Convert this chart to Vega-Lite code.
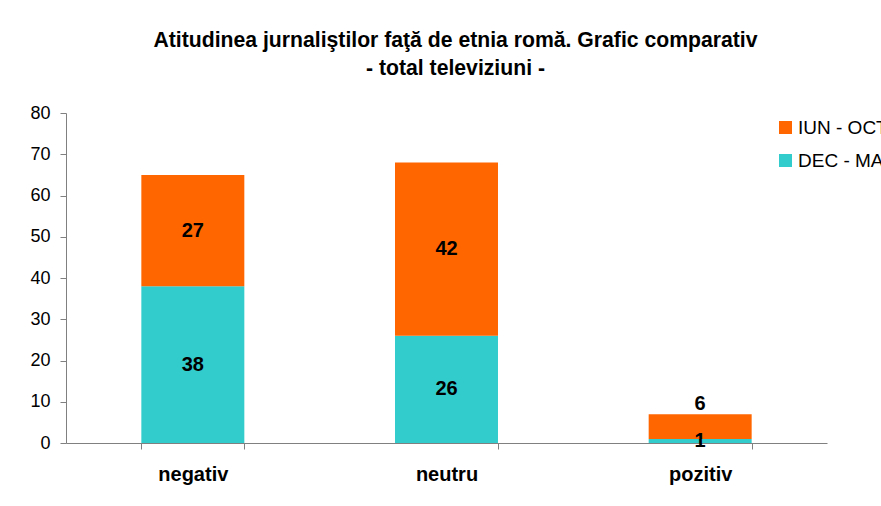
{
  "$schema": "https://vega.github.io/schema/vega-lite/v6.json",
  "autosize": {"type": "none"},
  "width": 761,
  "height": 330,
  "padding": {"left": 66, "top": 113, "right": 54, "bottom": 63},
  "background": "white",
  "config": {
    "font": "Liberation Sans",
    "view": {"stroke": null}
  },
  "title": {
    "text": ["Atitudinea jurnaliştilor faţă de etnia romă. Grafic comparativ", "- total televiziuni -"],
    "font": "Liberation Sans",
    "fontSize": 21.2,
    "fontWeight": "bold",
    "color": "#000000",
    "anchor": "middle",
    "dx": 9,
    "offset": 25,
    "lineHeight": 28
  },
  "data": {
    "values": [
      {"categorie": "negativ", "perioada": "DEC - MAR", "valoare": 38},
      {"categorie": "negativ", "perioada": "IUN - OCT", "valoare": 27},
      {"categorie": "neutru", "perioada": "DEC - MAR", "valoare": 26},
      {"categorie": "neutru", "perioada": "IUN - OCT", "valoare": 42},
      {"categorie": "pozitiv", "perioada": "DEC - MAR", "valoare": 1},
      {"categorie": "pozitiv", "perioada": "IUN - OCT", "valoare": 6}
    ]
  },
  "transform": [
    {"stack": "valoare", "groupby": ["categorie"], "sort": [{"field": "perioada", "order": "ascending"}], "as": ["v0", "v1"]},
    {"calculate": "(datum.v0 + datum.v1) / 2", "as": "vmid"}
  ],
  "encoding": {
    "x": {
      "field": "categorie",
      "type": "nominal",
      "sort": ["negativ", "neutru", "pozitiv"],
      "scale": {"paddingInner": 0.594, "paddingOuter": 0.297},
      "axis": {
        "title": null,
        "labelAngle": 0,
        "labelFont": "Liberation Sans",
        "labelFontSize": 20,
        "labelFontWeight": "bold",
        "labelColor": "#000000",
        "labelPadding": 15,
        "tickBand": "extent",
        "tickSize": 6,
        "domainColor": "#808080",
        "tickColor": "#808080"
      }
    }
  },
  "layer": [
    {
      "mark": {"type": "bar"},
      "encoding": {
        "y": {
          "field": "v0",
          "type": "quantitative",
          "scale": {"domain": [0, 80], "nice": false},
          "axis": {
            "title": null,
            "values": [0, 10, 20, 30, 40, 50, 60, 70, 80],
            "grid": false,
            "labelFont": "Liberation Sans",
            "labelFontSize": 18,
            "labelColor": "#000000",
            "labelPadding": 10,
            "tickSize": 6,
            "domainColor": "#808080",
            "tickColor": "#808080"
          }
        },
        "y2": {"field": "v1"},
        "color": {
          "field": "perioada",
          "type": "nominal",
          "scale": {"domain": ["IUN - OCT", "DEC - MAR"], "range": ["#FF6600", "#33CCCC"]},
          "legend": {
            "title": null,
            "orient": "none",
            "legendX": 710,
            "legendY": 5,
            "symbolType": "square",
            "symbolSize": 170,
            "symbolStrokeWidth": 0,
            "labelFont": "Liberation Sans",
            "labelFontSize": 19,
            "labelColor": "#000000",
            "labelOffset": 3,
            "rowPadding": 13
          }
        }
      }
    },
    {
      "transform": [{"filter": "!(datum.categorie == 'pozitiv' && datum.perioada == 'IUN - OCT')"}],
      "mark": {"type": "text", "font": "Liberation Sans", "fontSize": 20, "fontWeight": "bold", "color": "#000000", "baseline": "middle"},
      "encoding": {
        "y": {"field": "vmid", "type": "quantitative"},
        "text": {"field": "valoare", "type": "quantitative"}
      }
    },
    {
      "transform": [{"filter": "datum.categorie == 'pozitiv' && datum.perioada == 'IUN - OCT'"}],
      "mark": {"type": "text", "font": "Liberation Sans", "fontSize": 20, "fontWeight": "bold", "color": "#000000", "baseline": "bottom", "dy": 0},
      "encoding": {
        "y": {"field": "v1", "type": "quantitative"},
        "text": {"field": "valoare", "type": "quantitative"}
      }
    }
  ]
}
